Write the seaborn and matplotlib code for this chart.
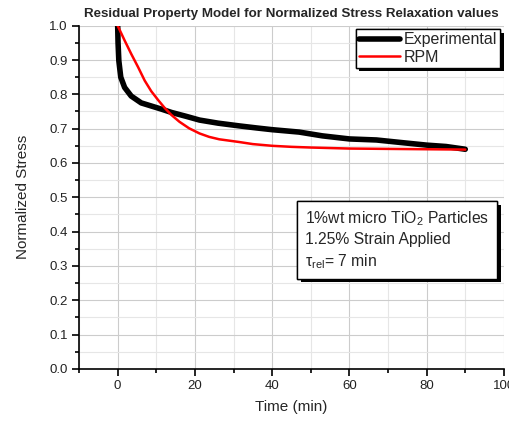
import matplotlib
matplotlib.use("Agg")
import matplotlib.pyplot as plt
import matplotlib.patheffects as pe
from matplotlib.ticker import MultipleLocator, FormatStrFormatter
import pandas as pd
import seaborn as sns

# Experimental normalized stress relaxation curve
time_exp = [0, 0.1, 0.3, 0.8, 1.8, 3.5, 6.1, 8.7, 11.3, 14, 17.7, 21.2, 26,
            31.5, 36, 40, 47, 53, 60, 67, 73, 80, 85, 90]
stress_exp = [1.0, 0.95, 0.898, 0.85, 0.82, 0.795, 0.775, 0.766, 0.757,
              0.747, 0.736, 0.725, 0.716, 0.708, 0.702, 0.697, 0.690, 0.679,
              0.670, 0.667, 0.660, 0.652, 0.648, 0.640]

# Residual Property Model fit
time_rpm = [0, 1.8, 3.5, 5.3, 7.0, 8.7, 10.5, 12.2, 13.9, 16, 18.5, 21.2,
            23.7, 26.3, 31.5, 35, 40, 45, 50, 60, 70, 80, 90]
stress_rpm = [1.0, 0.957, 0.918, 0.879, 0.840, 0.809, 0.783, 0.760, 0.740,
              0.720, 0.701, 0.686, 0.676, 0.669, 0.661, 0.655, 0.650, 0.647,
              0.645, 0.642, 0.641, 0.640, 0.639]

exp_df = pd.DataFrame({"Time": time_exp, "Stress": stress_exp})
rpm_df = pd.DataFrame({"Time": time_rpm, "Stress": stress_rpm})

sns.set_style("white")
plt.rcParams["font.family"] = ["Liberation Sans", "DejaVu Sans"]
plt.rcParams["mathtext.fontset"] = "custom"
plt.rcParams["mathtext.rm"] = "Liberation Sans"
plt.rcParams["mathtext.it"] = "Liberation Sans:italic"

fig = plt.figure(figsize=(5.10, 4.24), dpi=100)
ax = fig.add_axes([0.155, 0.130, 0.833, 0.8094])

sns.lineplot(data=exp_df, x="Time", y="Stress", ax=ax, color="black",
             linewidth=4, estimator=None, sort=False, label="Experimental")
sns.lineplot(data=rpm_df, x="Time", y="Stress", ax=ax, color="#ff0000",
             linewidth=1.8, estimator=None, sort=False, label="RPM")

ax.set_xlim(-10, 100)
ax.set_ylim(0, 1.0)
ax.xaxis.set_major_locator(MultipleLocator(20))
ax.xaxis.set_minor_locator(MultipleLocator(10))
ax.yaxis.set_major_locator(MultipleLocator(0.1))
ax.yaxis.set_minor_locator(MultipleLocator(0.05))
ax.yaxis.set_major_formatter(FormatStrFormatter("%.1f"))

ax.grid(True, which="major", color="#cccccc", linewidth=0.8)
ax.grid(True, which="minor", color="#e6e6e6", linewidth=0.8)
ax.set_axisbelow(True)

for side in ("top", "right"):
    ax.spines[side].set_visible(False)
for side in ("left", "bottom"):
    ax.spines[side].set_color("black")
    ax.spines[side].set_linewidth(1.2)

ax.tick_params(axis="both", which="major", direction="out", length=5,
               width=1.2, color="black", labelsize=9.5, pad=3, left=True,
               bottom=True, labelcolor="#222222")
ax.tick_params(axis="both", which="minor", direction="out", length=3,
               width=1.2, color="black", left=True, bottom=True)

ax.set_xlabel("Time (min)", fontsize=11, labelpad=6)
ax.set_ylabel("Normalized Stress", fontsize=11, labelpad=14)
ax.set_title("Residual Property Model for Normalized Stress Relaxation values",
             fontsize=9.6, fontweight="bold", pad=6)

shadow = [pe.withSimplePatchShadow(offset=(2.6, -2.6), shadow_rgbFace="black",
                                   alpha=1.0), pe.Normal()]

leg = ax.legend(loc="upper right", bbox_to_anchor=(0.995, 0.995), fontsize=11.5,
                handlelength=2.6, handletextpad=0.2, borderpad=0.2,
                labelspacing=0.15, fancybox=False, framealpha=1,
                borderaxespad=0.1)
leg.get_frame().set_edgecolor("black")
leg.get_frame().set_linewidth(1.0)
leg.get_frame().set_path_effects(shadow)

info = ax.text(0.532, 0.465,
               "1%wt micro TiO$_2$ Particles\n1.25% Strain Applied\n"
               r"τ$_{\mathrm{rel}}$= 7 min",
               transform=ax.transAxes, fontsize=11.3, linespacing=1.35,
               va="top", ha="left",
               bbox=dict(boxstyle="square,pad=0.5", facecolor="white",
                         edgecolor="black", linewidth=1.0))
info.get_bbox_patch().set_path_effects(shadow)

fig.savefig("out.png", dpi=100)
